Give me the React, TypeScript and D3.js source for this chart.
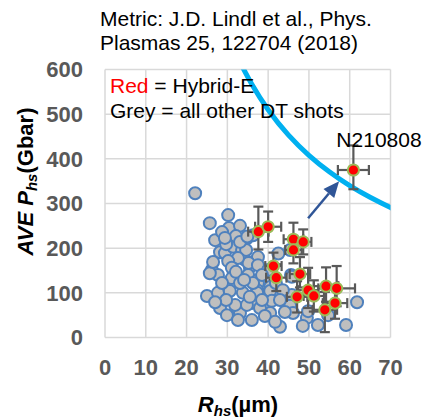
import React from 'react';
import * as d3 from 'd3';

// ---- data ----
const greyR = [22.1, 30.2, 25.7, 30.4, 34.8, 31.6, 28.2, 29.4, 31.4, 33.6, 34.3, 37.5, 35.5, 34.6, 35.2, 32.6, 30.2, 37.5,
  26.2, 27.7, 25.7, 31.1, 31.1, 35.1, 37.5, 37.5, 25.0, 27.7, 30.6, 33.8, 37.3, 40.5, 28.7, 33.1, 39.7, 37.3, 43.4, 45.8,
  40.5, 36.3, 28.2, 32.4, 36.0, 38.7, 29.9, 33.1, 36.0, 40.5, 42.9, 31.9, 34.8, 38.0, 40.9, 39.2, 45.4, 38.5, 46.1, 49.5,
  52.2, 54.7, 59.1, 61.8, 48.5, 49.8, 45.6, 27.0, 28.7, 33.1, 32.1, 29.7, 26.5, 32.1, 34.1, 29.7, 35.5, 27.0, 32.6, 41.7,
  44.1, 40.0, 38.5, 41.9, 43.6, 36.3, 33.1, 29.4, 34.9, 45.4, 42.5, 45.8, 42.9];
const greyP = [323, 274, 256, 245, 222, 216, 191, 189, 203, 196, 174, 180, 158, 196, 167, 178, 171, 162,
  151, 140, 144, 156, 133, 140, 129, 122, 93, 100, 104, 100, 106, 113, 122, 122, 91, 100, 84, 95,
  104, 122, 66, 66, 77, 68, 50, 55, 39, 55, 24, 73, 73, 66, 82, 48, 71, 84, 55, 44,
  28, 50, 28, 79, 26, 59, 140, 218, 236, 250, 227, 209, 169, 147, 129, 84, 91, 79, 39, 35,
  57, 151, 140, 122, 106, 229, 214, 223, 226, 196, 188, 136, 84];

const redR = [60.9, 37.6, 40.0, 46.2, 48.6, 46.2, 41.3, 42.0, 47.8, 47.1, 49.8, 51.2, 54.2, 56.8, 56.4, 53.9];
const redP = [375, 237, 248, 220, 214, 196, 160, 134, 142, 91, 106, 93, 115, 110, 77, 62];
const redPErrUp = [55, 56, 34, 37, 28, 30, 30, 30, 38, 35, 50, 35, 42, 50, 35, 40];
const redPErrDown = [43, 40, 34, 30, 28, 30, 30, 30, 30, 35, 40, 35, 35, 40, 35, 50];
const redRErr = [3.8, 2.5, 3.2, 2.4, 2.0, 2.0, 2.0, 2.5, 2.5, 2.5, 2.5, 2.5, 3.0, 4.5, 3.0, 3.0];

// metric curve
const curveR = [33, 36, 40, 45, 50, 55, 60, 65, 70, 72];
const curveP = [618, 567, 510, 453, 408, 371, 340, 314, 291, 283];

const arrowFrom = [49.8, 267];
const arrowTo = [57.4, 350];

const xTicks = [0, 10, 20, 30, 40, 50, 60, 70];
const yTicks = [0, 100, 200, 300, 400, 500, 600];

const labelShot = 'N210808';
const titleLines = ['Metric: J.D. Lindl et al., Phys.', 'Plasmas 25, 122704 (2018)'];

const FONT = "'Liberation Sans', Arial, Helvetica, sans-serif";

export default function App() {
  const x = d3.scaleLinear().domain([0, 70]).range([105, 390.5]);
  const y = d3.scaleLinear().domain([0, 600]).range([337.5, 69.5]);

  const curvePts: [number, number][] = curveR.map((r, i) => [x(r), y(curveP[i])]);
  const curvePath = d3.line().curve(d3.curveNatural)(curvePts) || '';

  // arrow geometry
  const ax0 = x(arrowFrom[0]), ay0 = y(arrowFrom[1]);
  const ax1 = x(arrowTo[0]), ay1 = y(arrowTo[1]);
  const ang = Math.atan2(ay1 - ay0, ax1 - ax0);
  const headLen = 16, headW = 7;
  const bx = ax1 - headLen * Math.cos(ang), by = ay1 - headLen * Math.sin(ang);
  const head = [
    [ax1, ay1],
    [bx + headW * Math.sin(ang), by - headW * Math.cos(ang)],
    [bx - headW * Math.sin(ang), by + headW * Math.cos(ang)],
  ].map(p => p.join(',')).join(' ');

  const [x0, x1] = x.range();
  const [y0, y1] = y.range();
  const errColor = '#595959';
  const cap = 5;

  return (
    <svg width={425} height={417} style={{ position: 'absolute', left: 0, top: 0, background: '#fff' }} fontFamily={FONT}>
      <defs>
        <clipPath id="plotClip">
          <rect x={x0} y={y1} width={x1 - x0} height={y0 - y1} />
        </clipPath>
      </defs>
      <rect width={425} height={417} fill="#fff" />
      {/* grid */}
      {xTicks.map(t => (
        <line key={'gx' + t} x1={x(t)} x2={x(t)} y1={y1} y2={y0} stroke="#D9D9D9" strokeWidth={1.5} />
      ))}
      {yTicks.map(t => (
        <line key={'gy' + t} x1={x0} x2={x1} y1={y(t)} y2={y(t)} stroke="#D9D9D9" strokeWidth={1.5} />
      ))}
      {/* tick labels */}
      {yTicks.map(t => (
        <text key={'ty' + t} x={83} y={y(t) + 7.9} textAnchor="end" fontSize={22} fontWeight="bold" fill="#595959">{t}</text>
      ))}
      {xTicks.map(t => (
        <text key={'tx' + t} x={x(t)} y={375} textAnchor="middle" fontSize={22} fontWeight="bold" fill="#595959">{t}</text>
      ))}
      {/* metric curve */}
      <path d={curvePath} fill="none" stroke="#00B0F0" strokeWidth={5} clipPath="url(#plotClip)" />
      {/* grey points */}
      {greyR.map((r, i) => (
        <circle key={'g' + i} cx={x(r)} cy={y(greyP[i])} r={6} fill="#BFBFBF" stroke="#4F81BD" strokeWidth={2} />
      ))}
      {/* error bars */}
      {redR.map((r, i) => {
        const cx = x(r), cy = y(redP[i]);
        const yt = y(redP[i] + redPErrUp[i]), yb = y(redP[i] - redPErrDown[i]);
        const xl = x(r - redRErr[i]), xr = x(r + redRErr[i]);
        return (
          <g key={'e' + i} stroke={errColor} strokeWidth={2.2}>
            <line x1={cx} x2={cx} y1={yt} y2={yb} />
            <line x1={cx - cap} x2={cx + cap} y1={yt} y2={yt} />
            <line x1={cx - cap} x2={cx + cap} y1={yb} y2={yb} />
            <line x1={xl} x2={xr} y1={cy} y2={cy} />
            <line x1={xl} x2={xl} y1={cy - cap} y2={cy + cap} />
            <line x1={xr} x2={xr} y1={cy - cap} y2={cy + cap} />
          </g>
        );
      })}
      {/* red points */}
      {redR.map((r, i) => (
        <circle key={'r' + i} cx={x(r)} cy={y(redP[i])} r={5.6} fill="#FF0000" stroke="#9BBB59" strokeWidth={2} />
      ))}
      {/* arrow */}
      <line x1={ax0} y1={ay0} x2={bx} y2={by} stroke="#2F5597" strokeWidth={2.5} />
      <polygon points={head} fill="#2F5597" />
      {/* shot label */}
      <text x={x(redR[0]) + 25.6} y={y(redP[0]) - 23.3} textAnchor="middle" fontSize={21} fill="#000">{labelShot}</text>
      {/* legend text */}
      <text x={110} y={92.5} fontSize={21} fill="#000">
        <tspan fill="#FF0000">Red</tspan> = Hybrid-E
      </text>
      <text x={110} y={117.5} fontSize={21} fill="#000">Grey = all other DT shots</text>
      {/* title */}
      {titleLines.map((t, i) => (
        <text key={'tl' + i} x={100} y={26 + i * 24} fontSize={21} fill="#000">{t}</text>
      ))}
      {/* axis titles */}
      <text x={238} y={411.5} textAnchor="middle" fontSize={22} fontWeight="bold" fill="#000">
        <tspan fontStyle="italic">R</tspan>
        <tspan fontStyle="italic" fontSize={15} dy={4}>hs</tspan>
        <tspan dy={-4}>(µm)</tspan>
      </text>
      <text transform="translate(33,181.5) rotate(-90)" textAnchor="middle" fontSize={22} fontWeight="bold" fill="#000">
        <tspan fontStyle="italic">AVE P</tspan>
        <tspan fontStyle="italic" fontSize={15} dy={4}>hs</tspan>
        <tspan dy={-4}>(Gbar)</tspan>
      </text>
    </svg>
  );
}
